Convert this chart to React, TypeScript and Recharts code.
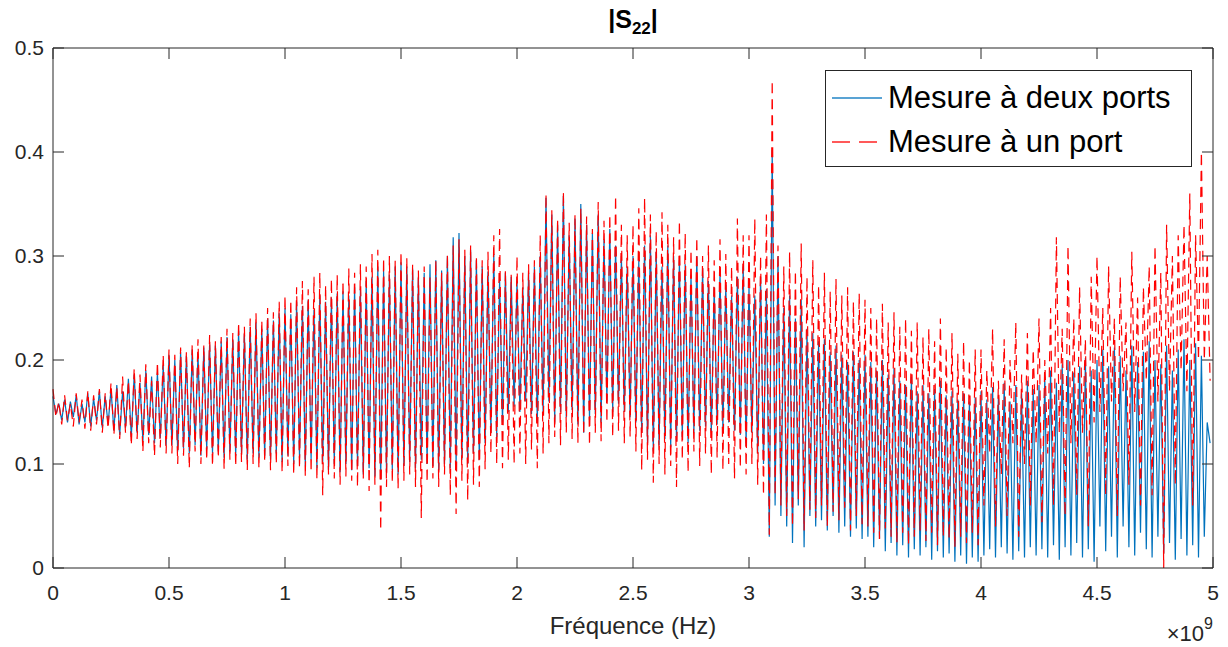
import { LineChart, Line, XAxis, YAxis, ReferenceLine } from "recharts";

// |S22| versus frequency, read off the plot as alternating peak / trough pairs,
// one array per 0.5 GHz band, 20 oscillations per band (step 12.5 MHz)
const blue0 = [0.165, 0.148, 0.158, 0.142, 0.162, 0.14, 0.16, 0.145, 0.166, 0.138, 0.158, 0.14, 0.168, 0.136, 0.163, 0.142, 0.17, 0.135, 0.165, 0.138,
	0.172, 0.132, 0.176, 0.128, 0.17, 0.135, 0.182, 0.126, 0.186, 0.13, 0.178, 0.122, 0.19, 0.128, 0.184, 0.12, 0.188, 0.125, 0.195, 0.118];
const blue1 = [0.205, 0.118, 0.2, 0.112, 0.208, 0.115, 0.204, 0.11, 0.21, 0.118, 0.206, 0.108, 0.212, 0.114, 0.215, 0.11, 0.214, 0.112, 0.218, 0.106,
	0.222, 0.112, 0.22, 0.108, 0.228, 0.11, 0.225, 0.104, 0.232, 0.11, 0.236, 0.106, 0.23, 0.108, 0.24, 0.104, 0.238, 0.11, 0.245, 0.102];
const blue2 = [0.25, 0.108, 0.244, 0.1, 0.256, 0.106, 0.252, 0.098, 0.258, 0.104, 0.248, 0.096, 0.262, 0.102, 0.256, 0.094, 0.26, 0.1, 0.264, 0.092,
	0.266, 0.1, 0.262, 0.094, 0.27, 0.098, 0.268, 0.09, 0.276, 0.096, 0.28, 0.088, 0.29, 0.085, 0.286, 0.092, 0.282, 0.094, 0.29, 0.09];
const blue3 = [0.294, 0.098, 0.29, 0.102, 0.288, 0.096, 0.28, 0.104, 0.284, 0.1, 0.292, 0.098, 0.296, 0.094, 0.286, 0.1, 0.3, 0.096, 0.318, 0.098,
	0.322, 0.104, 0.3, 0.1, 0.306, 0.11, 0.296, 0.104, 0.29, 0.12, 0.285, 0.13, 0.302, 0.126, 0.278, 0.14, 0.284, 0.15, 0.28, 0.155];
const blue4 = [0.276, 0.15, 0.27, 0.16, 0.284, 0.148, 0.29, 0.14, 0.3, 0.15, 0.356, 0.16, 0.34, 0.14, 0.33, 0.15, 0.358, 0.145, 0.32, 0.152,
	0.336, 0.138, 0.35, 0.13, 0.33, 0.142, 0.322, 0.148, 0.34, 0.14, 0.316, 0.16, 0.326, 0.15, 0.31, 0.158, 0.3, 0.15, 0.29, 0.145];
const blue5 = [0.3, 0.14, 0.296, 0.13, 0.31, 0.12, 0.32, 0.112, 0.304, 0.118, 0.29, 0.124, 0.31, 0.116, 0.3, 0.122, 0.296, 0.126, 0.292, 0.12,
	0.282, 0.13, 0.3, 0.132, 0.288, 0.136, 0.276, 0.13, 0.27, 0.138, 0.284, 0.134, 0.272, 0.14, 0.262, 0.132, 0.28, 0.128, 0.29, 0.12];
const blue6 = [0.27, 0.13, 0.262, 0.11, 0.28, 0.1, 0.268, 0.03, 0.402, 0.06, 0.3, 0.05, 0.25, 0.04, 0.262, 0.024, 0.24, 0.06, 0.258, 0.02,
	0.23, 0.05, 0.226, 0.04, 0.218, 0.046, 0.22, 0.036, 0.208, 0.05, 0.214, 0.034, 0.205, 0.04, 0.198, 0.03, 0.208, 0.038, 0.2, 0.028];
const blue7 = [0.205, 0.03, 0.198, 0.02, 0.19, 0.028, 0.2, 0.016, 0.186, 0.024, 0.192, 0.012, 0.18, 0.022, 0.176, 0.01, 0.184, 0.018, 0.17, 0.012,
	0.176, 0.02, 0.168, 0.008, 0.172, 0.016, 0.18, 0.01, 0.166, 0.014, 0.17, 0.006, 0.162, 0.012, 0.168, 0.004, 0.16, 0.01, 0.164, 0.006];
const blue8 = [0.17, 0.012, 0.162, 0.018, 0.174, 0.01, 0.166, 0.02, 0.178, 0.014, 0.16, 0.008, 0.176, 0.016, 0.168, 0.01, 0.18, 0.02, 0.172, 0.012,
	0.176, 0.018, 0.184, 0.01, 0.19, 0.022, 0.178, 0.008, 0.196, 0.02, 0.2, 0.012, 0.188, 0.024, 0.194, 0.01, 0.202, 0.018, 0.19, 0.006];
const blue9 = [0.2, 0.04, 0.21, 0.016, 0.194, 0.03, 0.212, 0.01, 0.204, 0.04, 0.19, 0.02, 0.214, 0.012, 0.198, 0.034, 0.208, 0.018, 0.218, 0.01,
	0.2, 0.03, 0.196, 0.014, 0.214, 0.024, 0.19, 0.008, 0.21, 0.028, 0.22, 0.012, 0.2, 0.022, 0.216, 0.01, 0.204, 0.03, 0.14, 0.12];

const red0 = [0.172, 0.145, 0.16, 0.138, 0.166, 0.142, 0.158, 0.136, 0.168, 0.14, 0.162, 0.134, 0.17, 0.132, 0.166, 0.138, 0.172, 0.13, 0.168, 0.134,
	0.178, 0.128, 0.174, 0.124, 0.184, 0.13, 0.18, 0.118, 0.192, 0.124, 0.186, 0.112, 0.196, 0.12, 0.18, 0.108, 0.198, 0.116, 0.205, 0.11];
const red1 = [0.21, 0.11, 0.205, 0.1, 0.212, 0.108, 0.208, 0.096, 0.215, 0.112, 0.22, 0.1, 0.214, 0.104, 0.224, 0.098, 0.218, 0.106, 0.222, 0.095,
	0.23, 0.104, 0.226, 0.098, 0.236, 0.102, 0.232, 0.094, 0.24, 0.1, 0.245, 0.096, 0.238, 0.102, 0.25, 0.094, 0.246, 0.1, 0.256, 0.092];
const red2 = [0.262, 0.098, 0.258, 0.09, 0.27, 0.096, 0.276, 0.088, 0.268, 0.092, 0.28, 0.085, 0.284, 0.07, 0.272, 0.09, 0.278, 0.086, 0.282, 0.08,
	0.276, 0.088, 0.288, 0.084, 0.284, 0.078, 0.292, 0.086, 0.29, 0.074, 0.302, 0.08, 0.306, 0.036, 0.298, 0.078, 0.3, 0.082, 0.296, 0.076];
const red3 = [0.304, 0.084, 0.298, 0.09, 0.292, 0.078, 0.286, 0.048, 0.29, 0.082, 0.28, 0.086, 0.296, 0.078, 0.284, 0.09, 0.302, 0.07, 0.31, 0.052,
	0.316, 0.084, 0.306, 0.065, 0.31, 0.08, 0.3, 0.078, 0.296, 0.095, 0.304, 0.11, 0.32, 0.1, 0.326, 0.096, 0.286, 0.104, 0.282, 0.1];
const red4 = [0.3, 0.11, 0.284, 0.1, 0.292, 0.114, 0.296, 0.096, 0.32, 0.11, 0.36, 0.12, 0.344, 0.126, 0.336, 0.118, 0.362, 0.13, 0.332, 0.124,
	0.34, 0.12, 0.346, 0.128, 0.338, 0.118, 0.326, 0.13, 0.352, 0.122, 0.334, 0.14, 0.34, 0.126, 0.358, 0.132, 0.33, 0.12, 0.32, 0.126];
const red5 = [0.33, 0.112, 0.346, 0.094, 0.356, 0.104, 0.34, 0.082, 0.324, 0.1, 0.342, 0.09, 0.33, 0.098, 0.318, 0.078, 0.334, 0.104, 0.322, 0.092,
	0.306, 0.112, 0.318, 0.098, 0.3, 0.11, 0.31, 0.09, 0.296, 0.106, 0.316, 0.094, 0.302, 0.1, 0.29, 0.086, 0.336, 0.096, 0.32, 0.09];
const red6 = [0.32, 0.1, 0.336, 0.08, 0.3, 0.07, 0.34, 0.032, 0.469, 0.07, 0.31, 0.06, 0.29, 0.05, 0.304, 0.04, 0.286, 0.066, 0.312, 0.036,
	0.28, 0.056, 0.296, 0.048, 0.272, 0.06, 0.284, 0.04, 0.266, 0.054, 0.278, 0.046, 0.262, 0.058, 0.27, 0.036, 0.256, 0.05, 0.264, 0.042];
const red7 = [0.258, 0.04, 0.25, 0.034, 0.24, 0.028, 0.254, 0.038, 0.236, 0.03, 0.246, 0.024, 0.232, 0.034, 0.24, 0.022, 0.228, 0.03, 0.236, 0.036,
	0.222, 0.026, 0.23, 0.034, 0.218, 0.022, 0.24, 0.03, 0.212, 0.028, 0.226, 0.02, 0.206, 0.03, 0.218, 0.024, 0.2, 0.034, 0.21, 0.022];
const red8 = [0.21, 0.06, 0.19, 0.11, 0.23, 0.04, 0.18, 0.09, 0.22, 0.05, 0.2, 0.12, 0.236, 0.03, 0.186, 0.1, 0.226, 0.06, 0.21, 0.12,
	0.24, 0.044, 0.2, 0.11, 0.25, 0.06, 0.318, 0.13, 0.23, 0.05, 0.31, 0.12, 0.24, 0.07, 0.27, 0.13, 0.22, 0.04, 0.28, 0.14];
const red9 = [0.3, 0.15, 0.25, 0.07, 0.29, 0.16, 0.24, 0.05, 0.28, 0.17, 0.236, 0.08, 0.304, 0.15, 0.26, 0.06, 0.27, 0.18, 0.29, 0.07,
	0.31, 0.16, 0.284, 0.0, 0.33, 0.17, 0.3, 0.08, 0.32, 0.19, 0.33, 0.17, 0.36, 0.06, 0.32, 0.2, 0.4, 0.2, 0.3, 0.18];

const blueAll = [...blue0, ...blue1, ...blue2, ...blue3, ...blue4, ...blue5, ...blue6, ...blue7, ...blue8, ...blue9];
const redAll = [...red0, ...red1, ...red2, ...red3, ...red4, ...red5, ...red6, ...red7, ...red8, ...red9];

const F_STEP = 12.5e6;
const xTicks = [0, 0.5e9, 1e9, 1.5e9, 2e9, 2.5e9, 3e9, 3.5e9, 4e9, 4.5e9, 5e9];
const yTicks = [0, 0.1, 0.2, 0.3, 0.4, 0.5];

const data = blueAll.map((b, i) => ({ f: i * F_STEP, blue: b, red: redAll[i] }));

const AXIS = "#262626";
const FONT = '"Liberation Sans", Arial, Helvetica, sans-serif';
const PLOT_W = 1160;
const PLOT_H = 520;
const TICK = 11;

const XTick = (props: any) => {
	const { x, y, payload } = props;
	const v = payload.value / 1e9;
	return (
		<g>
			<line x1={x} y1={y} x2={x} y2={y - TICK} stroke={AXIS} />
			<line x1={x} y1={y - PLOT_H} x2={x} y2={y - PLOT_H + TICK} stroke={AXIS} />
			<text x={x} y={y + 32} textAnchor="middle" fill={AXIS} fontSize={21} fontFamily={FONT}>
				{String(v)}
			</text>
			{payload.value === 5e9 && (
				<text x={x} y={y + 73} textAnchor="end" fill={AXIS} fontSize={22} fontFamily={FONT}>
					×10
					<tspan dy={-12} fontSize={16}>9</tspan>
				</text>
			)}
		</g>
	);
};

const YTick = (props: any) => {
	const { x, y, payload } = props;
	return (
		<g>
			<line x1={x} y1={y} x2={x + TICK} y2={y} stroke={AXIS} />
			<line x1={x + PLOT_W} y1={y} x2={x + PLOT_W - TICK} y2={y} stroke={AXIS} />
			<text x={x - 9} y={y + 7} textAnchor="end" fill={AXIS} fontSize={21} fontFamily={FONT}>
				{String(payload.value)}
			</text>
		</g>
	);
};

const legendItems = [
	{ label: "Mesure à deux ports", color: "#0072BD", dash: undefined },
	{ label: "Mesure à un port", color: "#FF0000", dash: "18 9" },
];

const LegendBox = () => (
	<div
		style={{
			position: "absolute",
			left: 825,
			top: 70,
			width: 367,
			height: 97,
			border: `1px solid ${AXIS}`,
			background: "#fff",
			fontFamily: FONT,
			fontSize: 31,
			color: "#000",
			boxSizing: "border-box",
			paddingTop: 5,
		}}>
		{legendItems.map((it) => (
			<div key={it.label} style={{ display: "flex", alignItems: "center", height: 44 }}>
				<svg width={56} height={10} style={{ marginLeft: 6, flex: "none" }}>
					<line x1={0} y1={5} x2={50} y2={5} stroke={it.color} strokeOpacity={0.65} strokeWidth={2} strokeDasharray={it.dash} />
				</svg>
				<span style={{ whiteSpace: "nowrap" }}>{it.label}</span>
			</div>
		))}
	</div>
);

export default function App() {
	return (
		<div style={{ position: "absolute", left: 0, top: 0, width: 1228, height: 647, background: "#fff", fontFamily: FONT }}>
			<div
				style={{
					position: "absolute",
					left: 0,
					width: 1266,
					top: 5,
					textAlign: "center",
					fontWeight: "bold",
					fontSize: 25,
					color: "#000",
				}}>
				|S<sub style={{ fontSize: 17 }}>22</sub>|
			</div>
			<LineChart width={1228} height={647} data={data} margin={{ top: 48, right: 15, bottom: 0, left: 0 }}>
				<XAxis
					dataKey="f"
					type="number"
					domain={[0, 5e9]}
					ticks={xTicks}
					height={79}
					stroke={AXIS}
					tickSize={0}
					tickMargin={0}
					tick={<XTick />}
					interval={0}
					label={{ value: "Fréquence (Hz)", position: "insideTop", offset: 49, fill: AXIS, fontSize: 24, fontFamily: FONT }}
				/>
				<YAxis
					type="number"
					domain={[0, 0.5]}
					ticks={yTicks}
					width={53}
					stroke={AXIS}
					tickSize={0}
					tickMargin={0}
					tick={<YTick />}
					interval={0}
					allowDataOverflow
				/>
				<ReferenceLine y={0.5} stroke={AXIS} />
				<ReferenceLine x={5e9} stroke={AXIS} />
				<Line dataKey="blue" stroke="#0072BD" strokeWidth={1.2} dot={false} isAnimationActive={false} />
				<Line dataKey="red" stroke="#FF0000" strokeWidth={1.2} strokeDasharray="10 6" dot={false} isAnimationActive={false} />
			</LineChart>
			<LegendBox />
		</div>
	);
}
